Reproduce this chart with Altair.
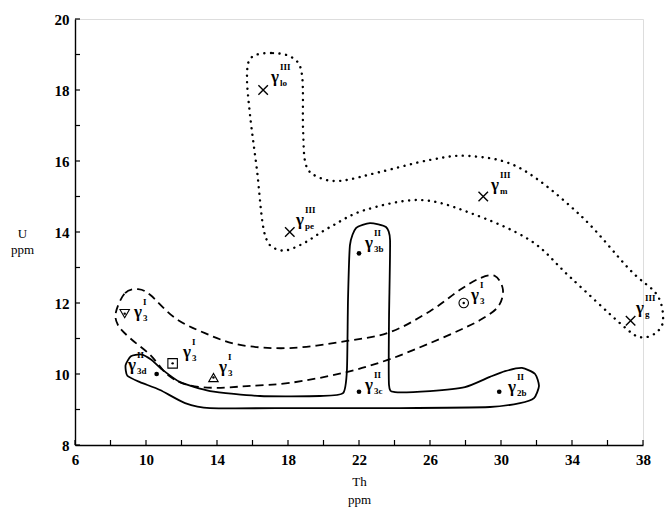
import altair as alt
import pandas as pd

# ---------------- data ----------------
x_tick_values = list(range(6, 39, 2))
y_tick_values = list(range(8, 21, 1))
x_label_values = list(range(6, 39, 4))
y_label_values = list(range(8, 21, 2))

# group III samples (crosses)
cross_x = [16.6, 18.1, 29.0, 37.3]
cross_y = [18.0, 14.0, 15.0, 11.5]

# group II samples (solid dots)
dot_x = [22.0, 22.0, 29.9, 10.6]
dot_y = [13.4, 9.5, 9.5, 10.0]

# group I samples (open symbols with a centre dot)
sym_x = [8.8, 11.5, 13.8, 27.9]
sym_y = [11.7, 10.3, 9.9, 12.0]
sym_shape = ["triangle-down", "square", "triangle-up", "circle"]

# labels: gamma with superscript (series) and subscript (type)
label_x = [17.27, 18.68, 29.66, 37.83, 22.56, 22.56, 30.62, 28.54, 9.55, 12.31, 14.34, 9.21]
label_y = [18.37, 14.34, 15.32, 11.86, 13.69, 9.69, 9.63, 12.23, 11.75, 10.62, 10.20, 10.25]
label_sup = ["III", "III", "III", "III", "II", "II", "II", "I", "I", "I", "I", "II"]
label_sub = ["lo", "pe", "m", "g", "3b", "3c", "2b", "3", "3", "3", "3", "3d"]

# dotted outline (group III)
dotted_x = [15.97, 17.15, 18.28, 18.79, 18.85, 19.01, 19.69, 20.93, 23.18, 26.0, 28.25,
            31.07, 34.45, 37.27, 38.79, 39.13, 38.7, 37.83, 36.82, 33.89, 31.63, 28.25,
            25.44, 22.34, 20.37, 18.68, 17.55, 16.70, 16.25, 15.86, 15.69]
dotted_y = [18.93, 19.04, 18.90, 18.42, 16.87, 15.89, 15.55, 15.44, 15.69, 16.03, 16.14,
            15.80, 14.48, 12.93, 12.23, 11.52, 11.15, 11.04, 11.38, 12.73, 13.77, 14.54,
            14.90, 14.62, 14.14, 13.63, 13.49, 13.92, 15.75, 17.30, 18.42]

# dashed outline (group I)
dashed_x = [8.31, 8.82, 9.55, 10.23, 11.63, 13.32, 15.30, 18.11, 21.32, 23.75, 26.0,
            27.69, 28.82, 29.66, 30.11, 29.83, 28.82, 27.69, 26.0, 23.58, 21.10, 18.11,
            15.69, 13.89, 12.37, 11.24, 10.23, 9.10, 8.42]
dashed_y = [11.75, 12.28, 12.39, 12.23, 11.58, 11.15, 10.82, 10.73, 10.93, 11.18, 11.77,
            12.37, 12.70, 12.76, 12.37, 11.89, 11.52, 11.24, 10.87, 10.39, 10.03, 9.75,
            9.66, 9.61, 9.69, 9.97, 10.54, 11.01, 11.38]

# solid outline (group II)
solid_x = [8.85, 9.15, 9.70, 10.30, 10.85, 11.92, 13.61, 16.42, 19.80, 21.10, 21.32, 21.38,
           21.49, 21.83, 22.62, 23.52, 23.75, 23.69, 23.69, 24.03, 26.0, 27.97, 29.38,
           30.23, 31.18, 31.92, 32.14, 31.86, 31.07, 29.38, 24.31, 18.68, 13.61, 12.20,
           10.79, 9.66, 8.95]
solid_y = [10.25, 10.50, 10.55, 10.40, 10.15, 9.77, 9.52, 9.38, 9.38, 9.46, 10.11, 12.08,
           13.63, 14.11, 14.25, 14.14, 13.77, 11.52, 9.69, 9.49, 9.52, 9.63, 9.92,
           10.08, 10.17, 10.0, 9.66, 9.32, 9.18, 9.07, 9.04, 9.04, 9.04, 9.18,
           9.55, 9.77, 9.95]

# ---------------- chart ----------------
W, H = 568, 426
FONT = "Liberation Serif"

xs = alt.Scale(domain=[6, 38], nice=False, zero=False)
ys = alt.Scale(domain=[8, 20], nice=False, zero=False)

x_axis = alt.Axis(
    values=x_label_values, ticks=False, grid=False, domainColor="black",
    domainWidth=1.4, labelFont=FONT, labelFontSize=15, labelFontWeight="bold",
    labelColor="black", labelPadding=7, labelFlush=False,
    title=["Th", "ppm"], titleFont=FONT, titleFontSize=13, titleFontWeight="normal",
    titleColor="black", titlePadding=8, titleLineHeight=18)
y_axis = alt.Axis(
    values=y_label_values, ticks=False, grid=False, domainColor="black",
    domainWidth=1.4, labelFont=FONT, labelFontSize=15, labelFontWeight="bold",
    labelColor="black", labelPadding=6, labelFlush=False,
    title=["U", "ppm"], titleFont=FONT, titleFontSize=13, titleFontWeight="normal",
    titleColor="black", titleAngle=0, titleAlign="center", titleBaseline="middle",
    titleX=-53, titleY=214, titleLineHeight=16)

X = alt.X("x:Q", scale=xs, axis=x_axis)
Y = alt.Y("y:Q", scale=ys, axis=y_axis)


def outline(xv, yv):
    return pd.DataFrame({"x": xv, "y": yv, "i": list(range(len(xv)))})


xtick = alt.Chart(pd.DataFrame({"x": x_tick_values})).mark_rule(color="black", strokeWidth=1.2).encode(
    x=X, y=alt.value(H), y2=alt.value(H - 5))
ytick = alt.Chart(pd.DataFrame({"y": y_tick_values})).mark_rule(color="black", strokeWidth=1.2).encode(
    y=Y, x=alt.value(0), x2=alt.value(5))

dotted = alt.Chart(outline(dotted_x, dotted_y)).mark_line(
    interpolate="cardinal-closed", color="black", strokeWidth=2.4,
    strokeDash=[0.1, 6.5], strokeCap="round").encode(x=X, y=Y, order="i:Q")
dashed = alt.Chart(outline(dashed_x, dashed_y)).mark_line(
    interpolate="cardinal-closed", color="black", strokeWidth=1.8,
    strokeDash=[8, 5]).encode(x=X, y=Y, order="i:Q")
solid = alt.Chart(outline(solid_x, solid_y)).mark_line(
    interpolate="cardinal-closed", tension=0.4, color="black", strokeWidth=1.8).encode(
    x=X, y=Y, order="i:Q")

crosses = alt.Chart(pd.DataFrame({"x": cross_x, "y": cross_y})).mark_point(
    shape="M-1,-1L1,1M-1,1L1,-1", size=90, filled=False, color="black", opacity=1,
    strokeWidth=1.4).encode(x=X, y=Y)
dots = alt.Chart(pd.DataFrame({"x": dot_x, "y": dot_y})).mark_circle(
    size=22, color="black", opacity=1).encode(x=X, y=Y)

sym_df = pd.DataFrame({"x": sym_x, "y": sym_y, "shape": sym_shape})
symbols = alt.Chart(sym_df).mark_point(
    filled=False, color="black", strokeWidth=1.1, size=90, opacity=1).encode(
    x=X, y=Y, shape=alt.Shape("shape:N", scale=None, legend=None))
sym_dots = alt.Chart(sym_df).mark_circle(size=6, color="black", opacity=1).encode(x=X, y=Y)

lab_df = pd.DataFrame({"x": label_x, "y": label_y, "sup": label_sup, "sub": label_sub, "g": ["γ"] * len(label_x)})
gam = alt.Chart(lab_df).mark_text(font=FONT, fontSize=17, fontWeight="bold", color="black",
                                  align="center", baseline="middle").encode(x=X, y=Y, text="g:N")
sup = alt.Chart(lab_df).mark_text(font=FONT, fontSize=9, fontWeight="bold", color="black",
                                  align="left", baseline="middle", dx=5, dy=-10).encode(x=X, y=Y, text="sup:N")
sub = alt.Chart(lab_df).mark_text(font=FONT, fontSize=9, fontWeight="bold", color="black",
                                  align="left", baseline="middle", dx=5, dy=6).encode(x=X, y=Y, text="sub:N")

chart = alt.layer(xtick, ytick, dotted, dashed, solid, crosses, dots, symbols,
                  sym_dots, gam, sup, sub).properties(
    width=W, height=H, padding={"left": 75, "top": 19, "right": 22, "bottom": 65},
    autosize=alt.AutoSizeParams(type="none"),
).configure_view(stroke=None).configure(background="white")

chart.save("out.html", embed_options={"renderer": "svg", "actions": False})
